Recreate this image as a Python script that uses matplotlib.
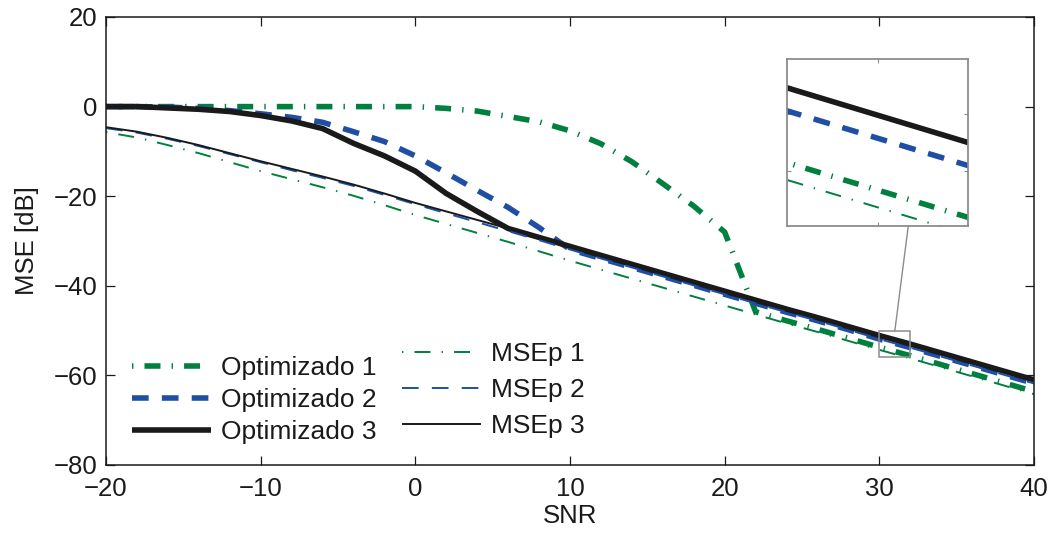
import matplotlib
matplotlib.use("Agg")
import matplotlib.pyplot as plt
from matplotlib.patches import Rectangle, ConnectionPatch

plt.rcParams['font.family'] = ['Liberation Sans', 'DejaVu Sans']
plt.rcParams['axes.unicode_minus'] = True
plt.rcParams['lines.scale_dashes'] = False

# SNR grid [dB]
snr = [-20, -18, -16, -14, -12, -10, -8, -6, -4, -2, 0, 2, 4, 6, 8, 10,
       12, 14, 16, 18, 20, 22, 24, 26, 28, 30, 32, 34, 36, 38, 40]

# Optimised designs [dB]
opt1 = [0.0, 0.0, 0.0, 0.0, 0.0, 0.0, 0.0, 0.0, 0.0, 0.0, 0.0, -0.4, -1.0,
        -2.2, -3.4, -5.4, -8.3, -12.3, -17.2, -22.2, -28.0, -45.8, -47.8,
        -49.7, -51.7, -53.7, -55.6, -57.6, -59.6, -61.6, -63.6]
opt2 = [0.0, 0.0, -0.1, -0.4, -0.9, -1.6, -2.4, -3.5, -5.6, -7.8, -11.0,
        -14.8, -18.7, -22.5, -27.0, -31.9, -33.9, -35.9, -37.9, -39.9, -41.9,
        -43.9, -45.9, -47.8, -49.8, -51.9, -53.8, -55.8, -57.8, -59.8, -61.8]
opt3 = [0.0, 0.0, -0.3, -0.6, -1.1, -2.0, -3.2, -4.9, -8.2, -11.0, -14.4,
        -19.4, -23.4, -27.2, -29.2, -31.2, -33.2, -35.2, -37.2, -39.2, -41.2,
        -43.2, -45.2, -47.1, -49.1, -51.1, -53.0, -55.0, -57.0, -59.0, -61.0]

# Predicted MSE [dB]
msep1 = [-5.7, -6.9, -8.6, -10.4, -12.4, -14.4, -16.2, -18.0, -19.9, -22.0,
         -24.2, -26.2, -28.2, -30.2, -32.3, -34.4, -36.4, -38.4, -40.4, -42.4,
         -44.4, -46.4, -48.4, -50.3, -52.3, -54.3, -56.2, -58.2, -60.2, -62.2,
         -64.2]
msep2 = [-4.8, -5.8, -7.2, -8.8, -10.6, -12.4, -14.2, -15.9, -17.7, -19.7,
         -21.8, -23.8, -25.8, -27.8, -29.8, -31.9, -33.9, -35.9, -37.9, -39.9,
         -41.9, -43.9, -45.9, -47.8, -49.8, -51.9, -53.8, -55.8, -57.8, -59.8,
         -61.8]
msep3 = [-4.6, -5.6, -7.0, -8.6, -10.4, -12.2, -13.9, -15.6, -17.4, -19.4,
         -21.5, -23.4, -25.3, -27.2, -29.2, -31.2, -33.2, -35.2, -37.2, -39.2,
         -41.2, -43.2, -45.2, -47.1, -49.1, -51.1, -53.0, -55.0, -57.0, -59.0,
         -61.0]

xticks = [-20, -10, 0, 10, 20, 30, 40]
yticks = [-80, -60, -40, -20, 0, 20]

GREEN = '#00803f'
BLUE = '#1f4fa5'
BLACK = '#1a1a1a'
FRAME = '#8c8c8c'

THICK = 4.0
THIN = 1.4
DASHDOT = (0, (1.0, 8.0, 11.5, 8.0))
DASHED = (0, (12.0, 9.5))

FS_TICK = 18.5
FS_LEG = 19

styles = [
    (opt1, 'Optimizado 1', GREEN, THICK, DASHDOT),
    (opt2, 'Optimizado 2', BLUE, THICK, DASHED),
    (opt3, 'Optimizado 3', BLACK, THICK, '-'),
    (msep1, 'MSEp 1', GREEN, THIN, DASHDOT),
    (msep2, 'MSEp 2', BLUE, THIN, DASHED),
    (msep3, 'MSEp 3', BLACK, THIN, '-'),
]

W, H = 1053, 535
fig = plt.figure(figsize=(W / 100, H / 100), dpi=100)
ax = fig.add_axes([106 / W, 1 - 465 / H, 928 / W, 448 / H])

lines = []
for y, label, color, lw, ls in styles:
    ln, = ax.plot(snr, y, color=color, lw=lw, linestyle=ls,
                  solid_capstyle='butt', dash_capstyle='butt', label=label)
    lines.append(ln)

ax.set_xlim(-20, 40)
ax.set_ylim(-80, 20)
ax.set_xticks(xticks)
ax.set_yticks(yticks)
ax.tick_params(direction='in', length=6.5, width=0.9, labelsize=FS_TICK,
               top=True, right=True, colors=BLACK)
ax.tick_params(axis='x', pad=9)
ax.tick_params(axis='y', pad=6)
for s in ax.spines.values():
    s.set_linewidth(1.1)
    s.set_color(BLACK)
ax.set_xlabel('SNR', fontsize=FS_TICK, color=BLACK, labelpad=2)
ax.set_ylabel('MSE [dB]', fontsize=FS_TICK, color=BLACK, labelpad=11)

leg_kw = dict(frameon=False, fontsize=FS_LEG, handlelength=3.0,
              handletextpad=0.38, borderpad=0, borderaxespad=0,
              loc='upper left')
leg1 = fig.legend(lines[:3], [l.get_label() for l in lines[:3]],
                  bbox_to_anchor=(132 / W, 1 - 356 / H), labelspacing=0.3,
                  **leg_kw)
leg2 = fig.legend(lines[3:], [l.get_label() for l in lines[3:]],
                  bbox_to_anchor=(402 / W, 1 - 342 / H), labelspacing=0.45,
                  **leg_kw)
for leg in (leg1, leg2):
    for t in leg.get_texts():
        t.set_color(BLACK)

# Zoomed view around SNR = 30..32 dB
zx = (30, 32)
zy = (-55.9, -50.1)
ax.add_patch(Rectangle((zx[0], zy[0]), zx[1] - zx[0], zy[1] - zy[0],
                       fill=False, edgecolor=FRAME, lw=1.1, zorder=5))

axin = fig.add_axes([787 / W, 1 - 226 / H, 181 / W, 167 / H])
for y, label, color, lw, ls in styles:
    axin.plot(snr, y, color=color, lw=lw, linestyle=ls,
              solid_capstyle='butt', dash_capstyle='butt')
axin.set_xlim(*zx)
axin.set_ylim(*zy)
axin.set_xticks([31])
axin.set_yticks([-54, -52])
axin.tick_params(direction='in', length=3, width=0.8, colors=FRAME,
                 labelleft=False, labelbottom=False, top=True, right=True)
for s in axin.spines.values():
    s.set_linewidth(1.3)
    s.set_color(FRAME)

con = ConnectionPatch(xyA=(31, zy[1]), coordsA=ax.transData,
                      xyB=(0.67, 0.0), coordsB=axin.transAxes,
                      color=FRAME, lw=1.0)
fig.add_artist(con)

fig.savefig('out.png', dpi=100)
